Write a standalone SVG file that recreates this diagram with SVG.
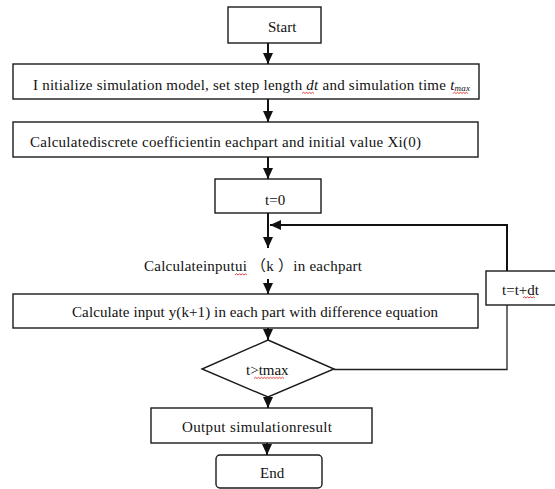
<svg xmlns="http://www.w3.org/2000/svg" width="555" height="489" viewBox="0 0 555 489">
<style>
.box{fill:#fff;stroke:#1a1a1a;stroke-width:1.4}
.t{font-family:"Liberation Serif","Noto Sans CJK SC",serif;font-size:15px;fill:#111}
.i{font-style:italic}
.sub{font-style:italic;font-size:9px}
.con{fill:none;stroke:#111;stroke-width:2}
.thin{fill:none;stroke:#222;stroke-width:1.3}
.sq{fill:none;stroke:#e0302a;stroke-width:0.9}
</style>
<defs>
<marker id="ah" markerUnits="userSpaceOnUse" markerWidth="12" markerHeight="12" viewBox="0 0 12 12" refX="11" refY="6" orient="auto">
<path d="M0,1 L11,6 L0,11 Z" fill="#111"/>
</marker>
</defs>
<rect width="555" height="489" fill="#fff"/>
<g id="connectors">
<line class="con" x1="268" y1="43" x2="268" y2="64" marker-end="url(#ah)"/>
<line class="con" x1="268" y1="99" x2="268" y2="122" marker-end="url(#ah)"/>
<line class="con" x1="268" y1="157" x2="268" y2="179" marker-end="url(#ah)"/>
<line class="con" x1="268" y1="213" x2="268" y2="248" marker-end="url(#ah)"/>
<line class="con" x1="268" y1="279" x2="268" y2="294" marker-end="url(#ah)"/>
<line class="con" x1="268" y1="328" x2="268" y2="340" marker-end="url(#ah)"/>
<line class="con" x1="268" y1="397" x2="268" y2="408" marker-end="url(#ah)"/>
<line class="con" x1="267" y1="443" x2="267" y2="455" marker-end="url(#ah)"/>
<polyline class="con" points="507,271 507,225 270,225" marker-end="url(#ah)"/>
<polyline class="thin" points="334,369.5 507,369.5 507,305"/>
</g>
<g id="start">
<rect class="box" x="228" y="7" width="93" height="36"/>
<text class="t" x="268" y="32">Start</text>
</g>
<g id="init">
<rect class="box" x="13" y="64" width="466" height="35"/>
<text class="t" x="33" y="90" textLength="437" lengthAdjust="spacing">I nitialize simulation model, set step length <tspan class="i">dt</tspan> and  simulation time <tspan class="i">t</tspan><tspan class="sub" dy="1">max</tspan></text>
<path class="sq" d="M302,93.5 l1.5,-1.2 l1.5,1.2 l1.5,-1.2 l1.5,1.2 l1.5,-1.2 l1.5,1.2 l1.5,-1.2 l1.5,1.2"/>
<path class="sq" d="M453,93.5 l1.5,-1.2 l1.5,1.2 l1.5,-1.2 l1.5,1.2 l1.5,-1.2 l1.5,1.2 l1.5,-1.2 l1.5,1.2 l1.5,-1.2 l1.5,1.2"/>
</g>
<g id="coef">
<rect class="box" x="13" y="122" width="465" height="35"/>
<text class="t" x="30" y="147" textLength="391" lengthAdjust="spacing">Calculatediscrete coefficientin eachpart and initial value Xi(0)</text>
</g>
<g id="t0">
<rect class="box" x="215" y="179" width="106" height="34"/>
<text class="t" x="265" y="205">t=0</text>
</g>
<g id="calc-input">
<text class="t" x="144" y="271" textLength="218" lengthAdjust="spacing">Calculateinputui （k ）in eachpart</text>
<path class="sq" d="M235,275 l1.5,-1.2 l1.5,1.2 l1.5,-1.2 l1.5,1.2 l1.5,-1.2 l1.5,1.2 l1.5,-1.2 l1.5,1.2"/>
</g>
<g id="tdt">
<rect class="box" x="486" y="271" width="80" height="34"/>
<text class="t" x="502" y="295">t=t+dt</text>
<path class="sq" d="M523,298 l1.5,-1.2 l1.5,1.2 l1.5,-1.2 l1.5,1.2 l1.5,-1.2 l1.5,1.2 l1.5,-1.2 l1.5,1.2"/>
</g>
<g id="diff">
<rect class="box" x="13" y="294" width="465" height="34"/>
<text class="t" x="72" y="317" textLength="366" lengthAdjust="spacing">Calculate input y(k+1) in each part with difference equation</text>
</g>
<g id="cond">
<polygon class="box" points="268,340 334,369 268,397 202,369"/>
<text class="t" x="246" y="375">t&gt;tmax</text>
<path class="sq" d="M254,378.5 l1.5,-1.2 l1.5,1.2 l1.5,-1.2 l1.5,1.2 l1.5,-1.2 l1.5,1.2 l1.5,-1.2 l1.5,1.2 l1.5,-1.2 l1.5,1.2 l1.5,-1.2 l1.5,1.2 l1.5,-1.2 l1.5,1.2 l1.5,-1.2 l1.5,1.2 l1.5,-1.2 l1.5,1.2 l1.5,-1.2 l1.5,1.2"/>
</g>
<g id="output">
<rect class="box" x="151" y="408" width="221" height="35"/>
<text class="t" x="182" y="432" textLength="150" lengthAdjust="spacing">Output simulationresult</text>
</g>
<g id="end">
<rect class="box" x="216" y="455" width="106" height="33" rx="4" ry="4"/>
<text class="t" x="260" y="478">End</text>
</g>
</svg>
